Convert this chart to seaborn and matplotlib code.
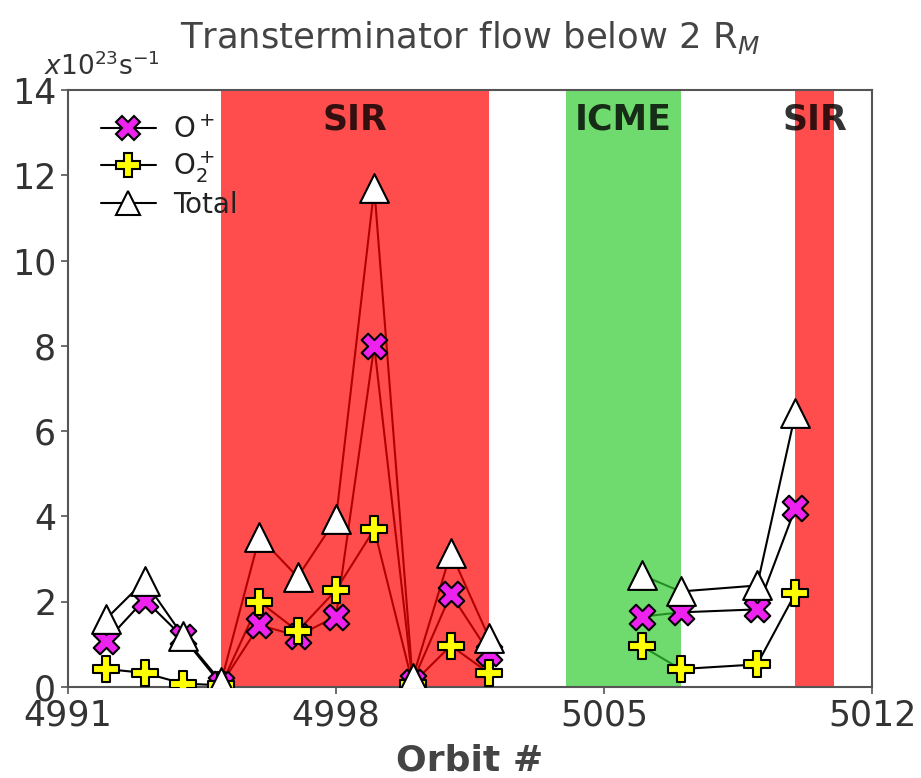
import numpy as np
import pandas as pd
import matplotlib
matplotlib.use("Agg")
import matplotlib.pyplot as plt
import seaborn as sns
from matplotlib.lines import Line2D

# ---- data ----
orbits = [4992, 4993, 4994, 4995, 4996, 4997, 4998, 4999, 5000, 5001, 5002,
          5006, 5007, 5009, 5010]
segment = [1] * 11 + [2] * 4
o_plus = [1.08, 2.05, 1.17, 0.06, 1.45, 1.2, 1.65, 8.0, 0.12, 2.18, 0.8,
          1.65, 1.75, 1.82, 4.2]
o2_plus = [0.42, 0.33, 0.08, 0.04, 2.0, 1.31, 2.27, 3.7, 0.08, 0.97, 0.32,
           0.95, 0.42, 0.53, 2.2]
total = [1.6, 2.49, 1.2, 0.12, 3.52, 2.58, 3.94, 11.7, 0.2, 3.15, 1.15,
         2.62, 2.24, 2.38, 6.42]
series_labels = ["O$^+$", "O$_2^+$", "Total"]
regions = [("SIR", 4995, 5002), ("ICME", 5004, 5007), ("SIR", 5010, 5011)]
xticks = [4991, 4998, 5005, 5012]
yticks = [0, 2, 4, 6, 8, 10, 12, 14]

df = pd.DataFrame({"orbit": orbits, "segment": segment,
                   "O+": o_plus, "O2+": o2_plus, "Total": total})

sns.set_style("ticks")
plt.rcParams['font.family'] = ['DejaVu Sans']

fig = plt.figure(figsize=(9.21, 7.78), dpi=100)
ax = fig.add_axes([0.0738, 0.117, 0.8730, 0.7673])

styles = {
    "O+": dict(marker="X", color="#ee22ee", s=340),
    "O2+": dict(marker="P", color="#ffff00", s=340),
    "Total": dict(marker="^", color="white", s=430),
}

for col in ["O+", "O2+", "Total"]:
    sns.lineplot(data=df, x="orbit", y=col, units="segment", estimator=None,
                 color="black", lw=1.5, ax=ax, zorder=1, legend=False)

for lab, x0, x1 in regions:
    c = "red" if lab == "SIR" else "limegreen"
    ax.axvspan(x0, x1, color=c, alpha=0.7, lw=0, zorder=1.5)
    ax.text((x0 + x1) / 2, 13.3, lab, ha="center", va="center",
            fontsize=25, fontweight="bold", color="black", alpha=0.8, zorder=4)

for col in ["O+", "O2+", "Total"]:
    st = styles[col]
    sns.scatterplot(data=df, x="orbit", y=col, marker=st["marker"],
                    color=st["color"], s=st["s"], edgecolor="black",
                    linewidth=1.5, ax=ax, zorder=3, legend=False)

ax.set_xlim(4991, 5012)
ax.set_ylim(0, 14)
ax.set_xticks(xticks)
ax.set_yticks(yticks)
ax.tick_params(labelsize=25, labelcolor="#333333", color="#555555",
               length=5, width=1.2, direction="out")
for sp in ax.spines.values():
    sp.set_visible(True)
    sp.set_color("#555555")
    sp.set_linewidth(1.5)

ax.set_xlabel("Orbit #", fontsize=26, fontweight="bold", color="#444444",
              labelpad=8)
ax.set_ylabel("")
ax.set_title("Transterminator flow below 2 R$_M$", fontsize=25.5,
             color="#444444", pad=30)
ax.text(-0.03, 1.015, r"$x10^{23}$s$^{-1}$", transform=ax.transAxes,
        fontsize=19, color="#333333", ha="left", va="bottom")

handles = []
for col in ["O+", "O2+", "Total"]:
    st = styles[col]
    handles.append(Line2D([0], [0], color="black", lw=1.5, marker=st["marker"],
                          markerfacecolor=st["color"], markeredgecolor="black",
                          markeredgewidth=1.5, markersize=17))
leg = ax.legend(handles, series_labels, loc="upper left", frameon=False,
                fontsize=20, handlelength=2.0, labelspacing=0.2,
                borderaxespad=0.2, handletextpad=0.6,
                bbox_to_anchor=(0.02, 0.985))
for t in leg.get_texts():
    t.set_color("#222222")

fig.savefig("out.png", dpi=100)
